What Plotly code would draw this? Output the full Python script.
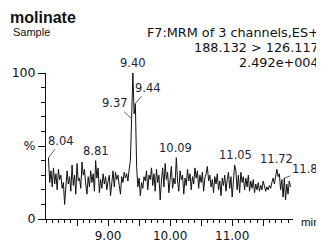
import numpy as np
import plotly.graph_objects as go

# ---------------- data ----------------
t_start = 8.04
t_step = 0.02
intensity = [
    42, 25, 33, 22, 35, 24, 31, 20, 34, 27,
    30, 21, 25, 10, 22, 33, 24, 29, 19, 37,
    23, 30, 17, 38, 26, 28, 21, 39, 30, 34,
    24, 17, 29, 22, 33, 25, 31, 19, 40, 28,
    35, 18, 27, 21, 31, 24, 29, 20, 26, 30,
    16, 25, 33, 22, 32, 27, 30, 23, 17, 29,
    25, 32, 28, 31, 26, 34, 40, 69, 100, 72,
    79, 36, 22, 28, 16, 25, 21, 29, 26, 33,
    20, 30, 27, 35, 23, 31, 19, 34, 25, 30,
    13, 26, 35, 22, 38, 27, 32, 18, 29, 36,
    21, 28, 24, 42, 26, 19, 33, 27, 30, 17,
    28, 23, 34, 26, 31, 20, 29, 24, 35, 28,
    33, 21, 30, 25, 32, 19, 28, 31, 36, 26,
    30, 22, 27, 18, 29, 24, 31, 20, 26, 16,
    28, 23, 30, 19, 27, 32, 21, 29, 15, 26,
    37, 33, 20, 30, 18, 32, 25, 29, 20, 28,
    22, 30, 19, 26, 21, 27, 18, 24, 20, 25,
    19, 23, 20, 26, 21, 19, 22, 20, 23, 21,
    25, 28, 24, 30, 34, 29, 31, 20, 27, 15,
    28, 13, 24, 17, 26, 22,
]
times = np.round(t_start + t_step * np.arange(len(intensity)), 2)

peak_labels = ["8.04", "8.81", "9.37", "9.40", "9.44", "10.09", "11.05", "11.72", "11.84"]

title_text = "molinate"
sample_text = "Sample"
header_lines = ["F7:MRM of 3 channels,ES+", "188.132 > 126.117", "2.492e+004"]

x_tickvals = [8.5, 9.0, 9.5, 10.0, 10.5, 11.0, 11.5]
x_ticktext = ["", "9.00", "", "10.00", "", "11.00", ""]
y_tickvals = [0, 50, 100]
y_ticktext = ["0", "%", "100"]

# ---------------- layout constants ----------------
# page body has an 8px margin; the figure is sized so it fills the 324x243 view
OFF = 8
W, H = 324 - OFF, 243 - OFF
# plot area in screen pixels: x 46..293, y 73..219
L, T = 46 - OFF, 73 - OFF
R = W - (293 - OFF)
B = H - (219 - OFF)
pw, ph = W - L - R, H - T - B


def px(xs):  # screen x -> paper
    return (xs - OFF - L) / pw


def py(ys):  # screen y -> paper
    return (H - B - (ys - OFF)) / ph


label_color = "#1e1e3c"
font_lbl = "DejaVu Sans"

fig = go.Figure()
fig.add_trace(go.Scatter(
    x=times, y=intensity, mode="lines",
    line=dict(color="#111111", width=1),
    cliponaxis=False, hoverinfo="skip",
))

# leader-line offsets (pixels) for labels that are displaced
leader = {"8.04": (13, -17), "9.37": (-16, -15), "9.44": (13, -16), "11.84": (24, -9)}

annotations = []
for lab in peak_labels:
    tv = float(lab)
    mask = np.abs(times - tv) <= 0.011
    yv = float(np.max(np.array(intensity)[mask]))
    if lab in leader:
        ax, ay = leader[lab]
        annotations.append(dict(
            x=tv, y=yv, xref="x", yref="y", text=lab, showarrow=True,
            arrowhead=0, arrowwidth=0.8, arrowcolor="#333333", standoff=0,
            ax=ax, ay=ay, font=dict(family=font_lbl, size=11.5, color=label_color),
        ))
    else:
        annotations.append(dict(
            x=tv, y=yv, xref="x", yref="y", text=lab, showarrow=False,
            yanchor="bottom", yshift=1,
            font=dict(family=font_lbl, size=11.5, color=label_color),
        ))

annotations.append(dict(
    x=px(9), y=py(8), xref="paper", yref="paper", text="<b>%s</b>" % title_text,
    showarrow=False, xanchor="left", yanchor="top", borderpad=0,
    font=dict(family="Liberation Sans", size=16, color="#111111"),
))
annotations.append(dict(
    x=px(11), y=py(32.5), xref="paper", yref="paper", text=sample_text,
    showarrow=False, xanchor="left", yanchor="middle",
    font=dict(family="Liberation Sans", size=11, color="#111111"),
))
for i, line in enumerate(header_lines):
    annotations.append(dict(
        x=px(321), y=py(32.5 + 15 * i), xref="paper", yref="paper", text=line,
        showarrow=False, xanchor="right", yanchor="middle",
        font=dict(family="DejaVu Sans", size=12.8, color="#111111"),
    ))
annotations.append(dict(
    x=px(299), y=py(222), xref="paper", yref="paper", text="min",
    showarrow=False, xanchor="left", yanchor="middle",
    font=dict(family="Liberation Sans", size=11.5, color="#111111"),
))

fig.update_layout(
    width=W, height=H,
    margin=dict(l=L, r=R, t=T, b=B, pad=0, autoexpand=False),
    paper_bgcolor="white", plot_bgcolor="white",
    showlegend=False,
    annotations=annotations,
    xaxis=dict(
        range=[8.0, 11.98], showgrid=False, zeroline=False, automargin=False,
        showline=True, linecolor="#111111", linewidth=1,
        tickmode="array", tickvals=x_tickvals, ticktext=x_ticktext,
        ticks="outside", ticklen=6, tickcolor="#111111", tickwidth=1,
        ticklabelstandoff=0,
        minor=dict(dtick=0.1, tick0=8.0, ticks="outside", ticklen=3,
                   tickcolor="#111111", tickwidth=1),
        tickfont=dict(family="DejaVu Sans", size=12, color="#111111"),
    ),
    yaxis=dict(
        range=[0, 100], showgrid=False, zeroline=False, automargin=False,
        showline=True, linecolor="#111111", linewidth=1,
        tickmode="array", tickvals=y_tickvals, ticktext=y_ticktext,
        ticks="outside", ticklen=7, tickcolor="#111111", tickwidth=1,
        minor=dict(dtick=10, tick0=0, ticks="outside", ticklen=4,
                   tickcolor="#111111", tickwidth=1),
        tickfont=dict(family="DejaVu Sans", size=12.5, color="#111111"),
    ),
)

fig.write_html("out.html")
